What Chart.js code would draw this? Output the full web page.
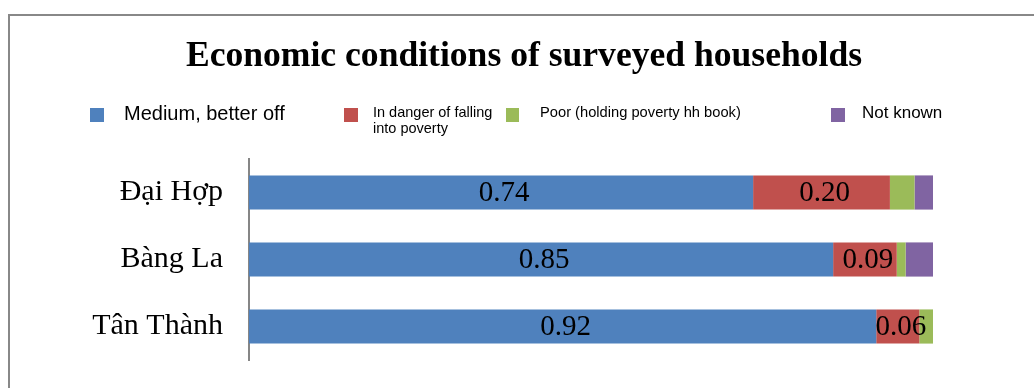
<!DOCTYPE html>
<html lang="en">
<head>
  <meta charset="UTF-8">
  <title>Economic conditions of surveyed households</title>
  <script src="https://cdn.jsdelivr.net/npm/chart.js"></script>
  <style>
    body { margin: 0; padding: 0; background: #fff; overflow: hidden; }
    .frame { position: absolute; left: 8px; top: 14px; width: 1100px; height: 420px; border: 2px solid #888; box-sizing: border-box; }
    #chart { position: absolute; left: 0; top: 0; }
  </style>
</head>
<body>
  <div class="frame"></div>
  <canvas id="chart" width="1034" height="388"></canvas>

  <script>
    const titleText = 'Economic conditions of surveyed households';
    const categories = ['Đại Hợp', 'Bàng La', 'Tân Thành'];
    const seriesNames = ['Medium, better off', 'In danger of falling into poverty', 'Poor (holding poverty hh book)', 'Not known'];
    const seriesColors = ['#4F81BD', '#C0504D', '#9BBB59', '#8064A2'];
    const medium   = [0.737, 0.854, 0.917];
    const danger   = [0.200, 0.093, 0.063];
    const poor     = [0.036, 0.013, 0.020];
    const notKnown = [0.027, 0.040, 0.000];
    const labelled = [true, true, false, false];

    // legend item placement (box x, y, w, h; text x, baseline y, font size, wrap width)
    const legendLayout = [
      { bx: 90,  by: 108, bw: 14, bh: 14, tx: 124, ty: 120, size: 20 },
      { bx: 344, by: 108, bw: 14, bh: 14, tx: 373, ty: 117, size: 14.5, wrap: 125, lh: 16 },
      { bx: 506, by: 108, bw: 13, bh: 14, tx: 540, ty: 117, size: 14.7 },
      { bx: 831, by: 108, bw: 14, bh: 14, tx: 862, ty: 118, size: 17 }
    ];

    const decor = {
      id: 'decor',
      afterDraw(chart) {
        const c = chart.ctx;
        c.save();
        c.fillStyle = '#000';
        c.textAlign = 'center';
        c.textBaseline = 'alphabetic';
        c.font = 'bold 35.6px "Liberation Serif", "Times New Roman", serif';
        c.fillText(titleText, 524, 66);

        c.textAlign = 'left';
        chart.data.datasets.forEach((ds, i) => {
          const L = legendLayout[i];
          c.fillStyle = ds.backgroundColor;
          c.fillRect(L.bx, L.by, L.bw, L.bh);
          c.fillStyle = '#000';
          c.font = L.size + 'px "Liberation Sans", Arial, sans-serif';
          let lines = [ds.label];
          if (L.wrap) {
            lines = [];
            let cur = '';
            ds.label.split(' ').forEach(w => {
              const t = cur ? cur + ' ' + w : w;
              if (c.measureText(t).width > L.wrap && cur) { lines.push(cur); cur = w; } else cur = t;
            });
            lines.push(cur);
          }
          lines.forEach((ln, k) => c.fillText(ln, L.tx, L.ty + k * (L.lh || 0)));
        });

        // value labels
        c.font = '29px "Liberation Serif", "Times New Roman", serif';
        c.textAlign = 'center';
        c.textBaseline = 'middle';
        chart.data.datasets.forEach((ds, i) => {
          if (!labelled[i]) return;
          chart.getDatasetMeta(i).data.forEach((bar, j) => {
            const v = ds.data[j];
            const p = bar.getProps(['x', 'base', 'y'], true);
            c.fillText(v.toFixed(2), (p.x + p.base) / 2 + 3, p.y + 1);
          });
        });
        c.restore();
      }
    };

    new Chart(document.getElementById('chart'), {
      type: 'bar',
      data: {
        labels: categories,
        datasets: [medium, danger, poor, notKnown].map((d, i) => ({
          label: seriesNames[i],
          data: d,
          backgroundColor: seriesColors[i],
          borderWidth: 0,
          categoryPercentage: 1,
          barPercentage: 0.51
        }))
      },
      options: {
        indexAxis: 'y',
        responsive: false,
        animation: false,
        layout: { padding: { top: 159, bottom: 28, left: 0, right: 101 } },
        plugins: { legend: { display: false }, title: { display: false }, tooltip: { enabled: false } },
        scales: {
          x: { stacked: true, min: 0, max: 1, display: false },
          y: {
            stacked: true,
            afterFit: s => { s.width = 249; s.paddingTop = 0; s.paddingBottom = 0; },
            grid: { display: false },
            border: { display: true, color: '#868686', width: 2 },
            ticks: {
              padding: 18,
              color: '#000',
              font: { family: '"Liberation Serif", "Times New Roman", serif', size: 30 }
            }
          }
        }
      },
      plugins: [decor]
    });
  </script>
</body>
</html>
